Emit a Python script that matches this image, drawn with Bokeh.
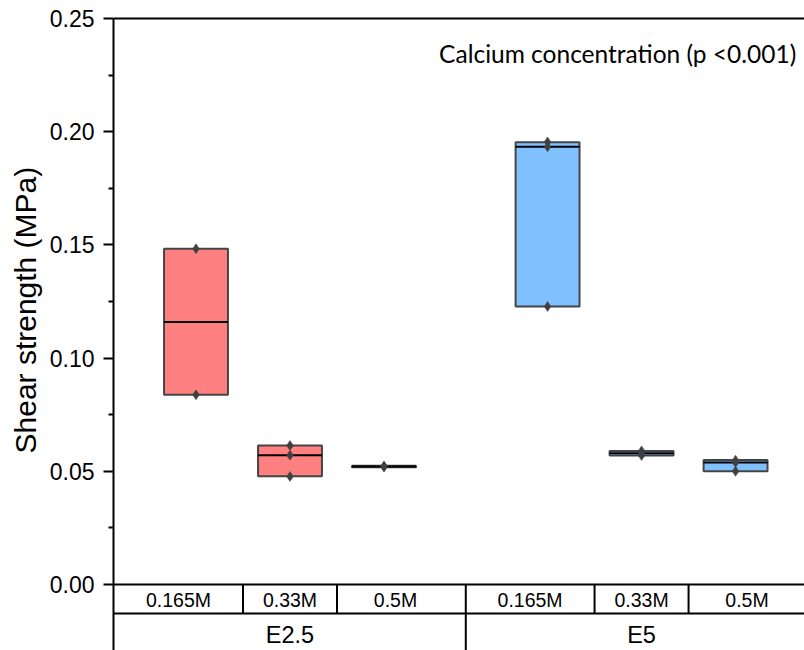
import math
from bokeh.plotting import figure
from bokeh.models import Range1d, FixedTicker, Label, Title, ColumnDataSource, NumeralTickFormatter
from bokeh.core.properties import value
from bokeh.embed import file_html
from bokeh.resources import INLINE

# ---------------- data ----------------
groups = ["E2.5", "E5"]
concentrations = ["0.165M", "0.33M", "0.5M"]
fill_colors = ["#FF8080", "#80C0FF"]

# box statistics (lower edge, median, upper edge) for each group, by concentration
e25_lower = [0.0838, 0.0478, 0.0518]
e25_median = [0.1160, 0.0571, 0.0521]
e25_upper = [0.1483, 0.0614, 0.0524]
e5_lower = [0.1228, 0.0570, 0.0500]
e5_median = [0.1933, 0.0580, 0.0539]
e5_upper = [0.1953, 0.0590, 0.0550]

# individual measurements
e25_points = [[0.1483, 0.0838], [0.0614, 0.0571, 0.0477], [0.0523, 0.0521, 0.0519]]
e5_points = [[0.1955, 0.1933, 0.1228], [0.0590, 0.0580, 0.0570], [0.0549, 0.0539, 0.0500]]

y_ticks = [0.00, 0.05, 0.10, 0.15, 0.20, 0.25]
y_minor = [0.025, 0.075, 0.125, 0.175, 0.225]
y_label = "Shear strength (MPa)"
note = "Calcium concentration  (p <0.001)"

# ---------------- layout ----------------
W, H = 804, 650
LEFT, TOP = 113, 16
k = 0.25 / 566.0          # MPa per pixel
XU = 94.0                 # pixels per category step
GROUP_STEP = 3.74         # offset of the second group, in category steps
BOX_W = 0.68

y_end = 0.25 + 2 * k
y_start = y_end - (H - TOP) * k
x_start = 1 - 82.5 / XU
x_end = x_start + (W - LEFT) / XU

p = figure(width=W, height=H, x_range=Range1d(x_start, x_end), y_range=Range1d(y_start, y_end),
           output_backend="svg", toolbar_location=None, tools="", x_axis_location=None,
           min_border_left=LEFT, min_border_right=0, min_border_top=TOP, min_border_bottom=0)
p.outline_line_color = None
p.grid.visible = False
p.background_fill_color = "white"

ax = p.yaxis[0]
ax.ticker = FixedTicker(ticks=y_ticks, minor_ticks=y_minor)
ax.formatter = NumeralTickFormatter(format="0.00")
ax.bounds = (y_start, 0.25)
ax.axis_line_width = 2
ax.axis_line_color = "black"
ax.major_tick_out = 10
ax.major_tick_in = 0
ax.minor_tick_out = 5
ax.minor_tick_in = 0
ax.major_tick_line_width = 2
ax.minor_tick_line_width = 2
ax.major_tick_line_color = "black"
ax.minor_tick_line_color = "black"
ax.major_label_standoff = 9
ax.major_label_text_font = "Liberation Sans"
ax.major_label_text_font_size = "23px"
ax.major_label_text_color = "black"

# build box data
xs, lows, meds, ups, cols = [], [], [], [], []
px, py = [], []
lowers = [e25_lower, e5_lower]
medians = [e25_median, e5_median]
uppers = [e25_upper, e5_upper]
pts = [e25_points, e5_points]
centers = []
for g in range(len(groups)):
    row = []
    for i in range(len(concentrations)):
        x = 1 + i + g * GROUP_STEP
        row.append(x)
        xs.append(x)
        lows.append(lowers[g][i])
        meds.append(medians[g][i])
        ups.append(uppers[g][i])
        cols.append(fill_colors[g])
        for v in pts[g][i]:
            px.append(x)
            py.append(v)
    centers.append(row)

src = ColumnDataSource(dict(x=xs, lower=lows, upper=ups, median=meds, color=cols,
                            x0=[x - BOX_W / 2 for x in xs], x1=[x + BOX_W / 2 for x in xs]))
p.vbar(x="x", width=BOX_W, bottom="lower", top="upper", fill_color="color",
       line_color="#454545", line_width=2, source=src)
p.segment(x0="x0", x1="x1", y0="median", y1="median", line_color="black", line_width=2, source=src)
p.scatter(px, py, marker="diamond", size=10, fill_color="#404040", line_color="#404040", line_width=0.5)

# top border
p.segment(x0=[x_start], x1=[x_end], y0=[0.25], y1=[0.25], line_color="black", line_width=2)

# category table below the axis
y_row = -29 * k
p.segment(x0=[x_start, x_start], x1=[x_end, x_end], y0=[0, y_row], y1=[0, y_row],
          line_color="black", line_width=2)
sub_sep = []
for g in range(len(groups)):
    for i in range(len(concentrations) - 1):
        sub_sep.append((centers[g][i] + centers[g][i + 1]) / 2)
p.segment(x0=sub_sep, x1=sub_sep, y0=[y_row] * len(sub_sep), y1=[0] * len(sub_sep),
          line_color="black", line_width=2)
grp_sep = [(centers[g][-1] + centers[g + 1][0]) / 2 for g in range(len(groups) - 1)]
p.segment(x0=grp_sep, x1=grp_sep, y0=[y_start] * len(grp_sep), y1=[0] * len(grp_sep),
          line_color="black", line_width=2)

label_shift = [-0.186, 0.0, 0.122]
sx, sy, st = [], [], []
for g in range(len(groups)):
    for i, c in enumerate(concentrations):
        sx.append(centers[g][i] + label_shift[i])
        sy.append(-15 * k)
        st.append(c)
p.text(x=sx, y=sy, text=st, text_font=value("Liberation Sans"), text_font_size="19.5px",
       text_align="center", text_baseline="middle", text_color="black")
p.text(x=[centers[g][1] for g in range(len(groups))], y=[-50 * k] * len(groups), text=groups,
       text_font=value("Liberation Sans"), text_font_size="23.5px",
       text_align="center", text_baseline="middle", text_color="black")

# axis title (as a left-side title so it can sit outside the frame)
p.add_layout(Title(text=y_label, align="left", offset=197, text_font="Liberation Sans",
                   text_font_size="30px", text_font_style="normal", text_color="black",
                   vertical_align="bottom", standoff=10), "left")
# note
p.add_layout(Label(x=x_end - 2 / XU, y=(584 - 52.5) * k, text=note, text_align="right",
                   text_baseline="alphabetic", text_font="Lato", text_font_size="24.5px",
                   text_color="black"))

open("out.html", "w").write(file_html(p, INLINE))
